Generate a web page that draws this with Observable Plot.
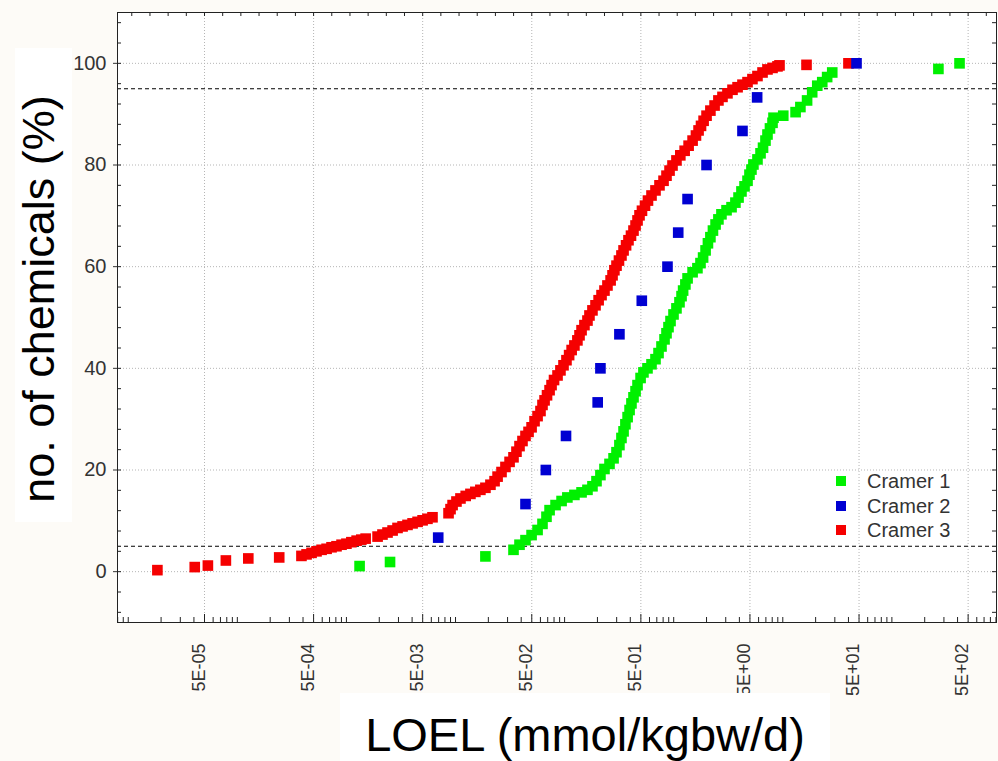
<!DOCTYPE html>
<html>
<head>
<meta charset="utf-8">
<script src="https://cdn.jsdelivr.net/npm/d3@7"></script>
<script src="https://cdn.jsdelivr.net/npm/@observablehq/plot@0.6"></script>
<style>
  body { margin: 0; background: #fdfbf7; font-family: "Liberation Sans", Arial, sans-serif; }
  #wrap { position: relative; width: 998px; height: 761px; overflow: hidden; }
  #wrap svg { position: absolute; left: 0; top: 0; }
  .ylabBox { position: absolute; left: 15px; top: 48px; width: 57px; height: 474px; background: #fff; }
  .ylab { position: absolute; left: -261px; top: 276px; width: 600px; height: 46px; line-height: 46px;
          text-align: center; font-size: 45px; color: #000; transform: rotate(-90deg); transform-origin: 50% 50%; white-space: nowrap; }
  .xlabBox { position: absolute; left: 340px; top: 693px; width: 490px; height: 68px; background: #fff; }
  .xlab { position: absolute; left: 0; top: 18px; width: 490px; height: 47px; line-height: 47px;
          text-align: center; font-size: 47px; color: #000; white-space: nowrap; }
  .leg { position: absolute; left: 836px; height: 24px; display: flex; align-items: center; font-size: 20px; color: #333; }
  .leg .sw { width: 10px; height: 10px; margin-right: 21px; }
</style>
</head>
<body>
<div id="wrap"></div>
<script>
// ---- data ----
const categories = ["Cramer 1", "Cramer 2", "Cramer 3"];
const colors = ["#00f000", "#0000d2", "#f50000"];

// Cramer 1 (green)
const cramer1X = [1.32e-3, 2.51e-3, 1.88e-2, 3.40e-2, 3.86e-2, 4.38e-2, 4.98e-2, 5.65e-2, 6.27e-2, 6.82e-2,
  7.28e-2, 8.26e-2, 9.38e-2, 0.106, 0.123, 0.143, 0.162, 0.180, 0.196, 0.213,
  0.232, 0.258, 0.281, 0.299, 0.318, 0.332, 0.347, 0.361, 0.378, 0.394,
  0.410, 0.428, 0.447, 0.466, 0.497, 0.528, 0.575, 0.626, 0.681, 0.726,
  0.773, 0.824, 0.859, 0.896, 0.935, 0.996, 1.06, 1.13, 1.18, 1.22,
  1.28, 1.34, 1.49, 1.65, 1.76, 1.86, 1.96, 2.06, 2.17, 2.29,
  2.42, 2.57, 2.74, 3.05, 3.39, 3.68, 3.93, 4.18, 4.46, 4.75,
  4.95, 5.16, 5.38, 5.86, 6.25, 6.59, 6.94, 7.24, 7.63, 8.05,
  8.22, 10.1, 13.1, 14.5, 16.7, 18.6, 20.7, 23.0, 25.5, 28.4,
  267, 417];
const cramer1Y = [1.1, 1.9, 3.0, 4.3, 5.3, 6.2, 7.2, 8.2, 9.4, 10.8,
  12.1, 13.1, 13.9, 14.6, 15.1, 15.6, 16.1, 16.8, 17.8, 19.0,
  20.2, 21.2, 22.3, 23.5, 24.9, 26.3, 27.6, 29.0, 30.4, 31.8,
  33.1, 34.3, 35.5, 36.7, 38.1, 39.2, 40.0, 40.8, 41.8, 43.0,
  44.3, 45.7, 46.9, 48.1, 49.3, 50.6, 51.8, 53.0, 54.2, 55.3,
  56.5, 57.7, 58.9, 59.7, 60.7, 61.8, 63.2, 64.6, 65.8, 67.1,
  68.3, 69.3, 70.3, 71.1, 71.7, 72.6, 73.6, 74.8, 75.8, 76.9,
  78.1, 79.1, 80.1, 81.1, 82.3, 83.4, 84.8, 86.0, 87.2, 88.3,
  89.3, 89.7, 90.4, 91.4, 92.7, 94.3, 95.6, 96.3, 97.3, 98.2,
  98.9, 100];

// Cramer 2 (blue)
const cramer2X = [6.94e-3, 4.38e-2, 6.73e-2, 0.103, 0.201, 0.213, 0.318, 0.510, 0.877, 1.10, 1.34, 2.00, 4.27, 5.82, 47.4];
const cramer2Y = [6.7, 13.3, 20.0, 26.7, 33.3, 40.0, 46.7, 53.3, 60.0, 66.7, 73.3, 80.0, 86.7, 93.3, 100];

// Cramer 3 (red)
const cramer3X = [1.85e-5, 4.07e-5, 5.37e-5, 7.85e-5, 1.26e-4, 2.42e-4, 3.87e-4, 4.31e-4, 4.79e-4, 5.32e-4,
  5.92e-4, 6.58e-4, 7.30e-4, 8.11e-4, 9.02e-4, 1.00e-3, 1.11e-3, 1.24e-3, 1.37e-3, 1.50e-3,
  1.93e-3, 2.14e-3, 2.38e-3, 2.65e-3, 2.94e-3, 3.27e-3, 3.63e-3, 4.04e-3, 4.49e-3, 4.99e-3,
  5.53e-3, 6.15e-3, 8.63e-3, 9.00e-3, 9.40e-3, 1.02e-2, 1.11e-2, 1.24e-2, 1.37e-2, 1.52e-2,
  1.69e-2, 1.88e-2, 2.09e-2, 2.28e-2, 2.43e-2, 2.64e-2, 2.87e-2, 3.13e-2, 3.40e-2, 3.62e-2,
  3.86e-2, 4.11e-2, 4.38e-2, 4.67e-2, 4.98e-2, 5.30e-2, 5.65e-2, 6.01e-2, 6.27e-2, 6.55e-2,
  6.90e-2, 7.28e-2, 7.59e-2, 8.00e-2, 8.61e-2, 9.16e-2, 9.77e-2, 0.104, 0.110, 0.116,
  0.123, 0.131, 0.137, 0.143, 0.152, 0.162, 0.169, 0.180, 0.192, 0.205,
  0.218, 0.232, 0.247, 0.264, 0.275, 0.286, 0.299, 0.315, 0.332, 0.347,
  0.366, 0.385, 0.406, 0.428, 0.447, 0.466, 0.486, 0.512, 0.546, 0.581,
  0.626, 0.681, 0.741, 0.807, 0.859, 0.916, 0.975, 1.06, 1.15, 1.26,
  1.37, 1.49, 1.60, 1.69, 1.78, 1.88, 2.00, 2.17, 2.37, 2.57,
  2.80, 3.11, 3.46, 3.85, 4.27, 4.75, 5.27, 5.86, 6.52, 7.24,
  8.05, 8.94, 9.33, 16.5, 40.0];
const cramer3Y = [0.3, 0.9, 1.2, 2.2, 2.6, 2.8, 3.1, 3.4, 3.7, 4.0,
  4.3, 4.5, 4.8, 5.0, 5.3, 5.5, 5.8, 6.1, 6.3, 6.5,
  6.9, 7.3, 7.7, 8.1, 8.6, 8.9, 9.2, 9.5, 9.8, 10.1,
  10.4, 10.7, 11.5, 12.3, 13.1, 13.8, 14.4, 14.9, 15.3, 15.7,
  16.1, 16.5, 17.1, 17.8, 18.7, 19.6, 20.6, 21.6, 22.5, 23.6,
  24.7, 25.7, 26.7, 27.5, 28.4, 29.6, 30.6, 31.6, 32.8, 33.7,
  34.7, 35.7, 36.7, 37.7, 38.6, 39.6, 40.6, 41.6, 42.6, 43.6,
  44.5, 45.5, 46.5, 47.5, 48.5, 49.4, 50.4, 51.4, 52.4, 53.4,
  54.4, 55.3, 56.3, 57.3, 58.3, 59.3, 60.2, 61.2, 62.2, 63.2,
  64.2, 65.2, 66.1, 67.1, 68.1, 69.1, 70.1, 71.0, 72.0, 73.0,
  74.0, 75.0, 76.0, 76.9, 77.9, 78.9, 79.9, 80.9, 81.9, 82.8,
  83.8, 84.8, 85.8, 86.8, 87.7, 88.7, 89.7, 90.7, 91.7, 92.7,
  93.4, 94.1, 94.8, 95.3, 95.8, 96.3, 96.9, 97.5, 98.2, 98.8,
  99.1, 99.4, 99.6, 99.7, 100];

const xTickValues = [5e-5, 5e-4, 5e-3, 5e-2, 5e-1, 5, 50, 500];
const xTickLabels = ["5E-05", "5E-04", "5E-03", "5E-02", "5E-01", "5E+00", "5E+01", "5E+02"];
const yTickValues = [0, 20, 40, 60, 80, 100];
const yTickLabels = ["0", "20", "40", "60", "80", "100"];
const thresholds = [5, 95];

const xLabel = "LOEL (mmol/kgbw/d)";
const yLabel = "no. of chemicals (%)";

// ---- build table ----
const rows = [];
const series = [
  [categories[2], cramer3X, cramer3Y],
  [categories[0], cramer1X, cramer1Y],
  [categories[1], cramer2X, cramer2Y]
];
for (const [group, xs, ys] of series) xs.forEach((x, i) => rows.push({group, x, y: ys[i]}));
const xTicks = xTickValues.map((v, i) => ({v, label: xTickLabels[i]}));

// ---- layout ----
const W = 998, H = 761, mt = 12, mb = 139, ml = 117, mr = 2;
const frameW = W - ml - mr, frameH = H - mt - mb;
const xDomain = [7.97e-6, 910];

const bottomMinor = [];
for (let k = -6; k <= 3; k++) for (let m = 1; m <= 9; m++) {
  const v = m * Math.pow(10, k);
  if (v >= xDomain[0] && v <= xDomain[1] && m !== 5) bottomMinor.push(v);
}
const topMinor = [];
for (let k = -7; k <= 3; k++) for (let j = 0; j < 6; j++) {
  const v = 5 * Math.pow(10, k + j / 6);
  if (v > xDomain[0] && v < xDomain[1]) topMinor.push(v);
}
const yMinor = d3.range(-8, 110, 4);

const chart = Plot.plot({
  width: W, height: H,
  marginTop: mt, marginBottom: mb, marginLeft: ml, marginRight: mr,
  style: {background: "transparent", fontFamily: "'Liberation Sans', Arial, sans-serif", color: "#333"},
  x: {type: "log", domain: xDomain, axis: null},
  y: {domain: [-10, 110]},
  color: {domain: categories, range: colors},
  marks: [
    Plot.frame({fill: "white", stroke: null}),
    Plot.ruleX(xTickValues, {stroke: "#b5b5b5", strokeDasharray: "1,2"}),
    Plot.ruleY(yTickValues, {stroke: "#b5b5b5", strokeDasharray: "1,2"}),
    Plot.ruleY(thresholds, {stroke: "#000", strokeDasharray: "4,3"}),
    Plot.tickX(bottomMinor, {x: d => d, insetTop: frameH - 5, stroke: "#222"}),
    Plot.tickX(xTickValues, {x: d => d, insetTop: frameH - 8, stroke: "#222"}),
    Plot.tickX(topMinor, {x: d => d, insetBottom: frameH - 4, stroke: "#222"}),
    Plot.tickY(yMinor, {y: d => d, insetRight: frameW - 4, stroke: "#222"}),
    Plot.tickY(yMinor, {y: d => d, insetLeft: frameW - 4, stroke: "#222"}),
    Plot.text(xTicks, {x: "v", text: "label", frameAnchor: "bottom", rotate: -90,
      textAnchor: "end", dy: 21, fontSize: 18, fill: "#333"}),
    Plot.axisY({ticks: yTickValues, tickFormat: d => yTickLabels[yTickValues.indexOf(d)],
      tickSize: 4, tickPadding: 7, fontSize: 20, label: null}),
    Plot.dot(rows, {x: "x", y: "y", fill: "group", symbol: "square", r: 6}),
    Plot.frame({stroke: "#222"})
  ]
});

const wrap = document.getElementById("wrap");
wrap.appendChild(chart);

// axis titles
const yBox = document.createElement("div"); yBox.className = "ylabBox"; wrap.appendChild(yBox);
const yl = document.createElement("div"); yl.className = "ylab"; yl.textContent = yLabel; wrap.appendChild(yl);
const xBox = document.createElement("div"); xBox.className = "xlabBox";
const xl = document.createElement("div"); xl.className = "xlab"; xl.textContent = xLabel;
xBox.appendChild(xl); wrap.appendChild(xBox);

// legend
const legTops = [469, 494, 518];
categories.forEach((c, i) => {
  const d = document.createElement("div");
  d.className = "leg";
  d.style.top = legTops[i] + "px";
  const sw = document.createElement("span");
  sw.className = "sw"; sw.style.background = colors[i];
  const t = document.createElement("span"); t.textContent = c;
  d.appendChild(sw); d.appendChild(t);
  wrap.appendChild(d);
});
</script>
</body>
</html>
